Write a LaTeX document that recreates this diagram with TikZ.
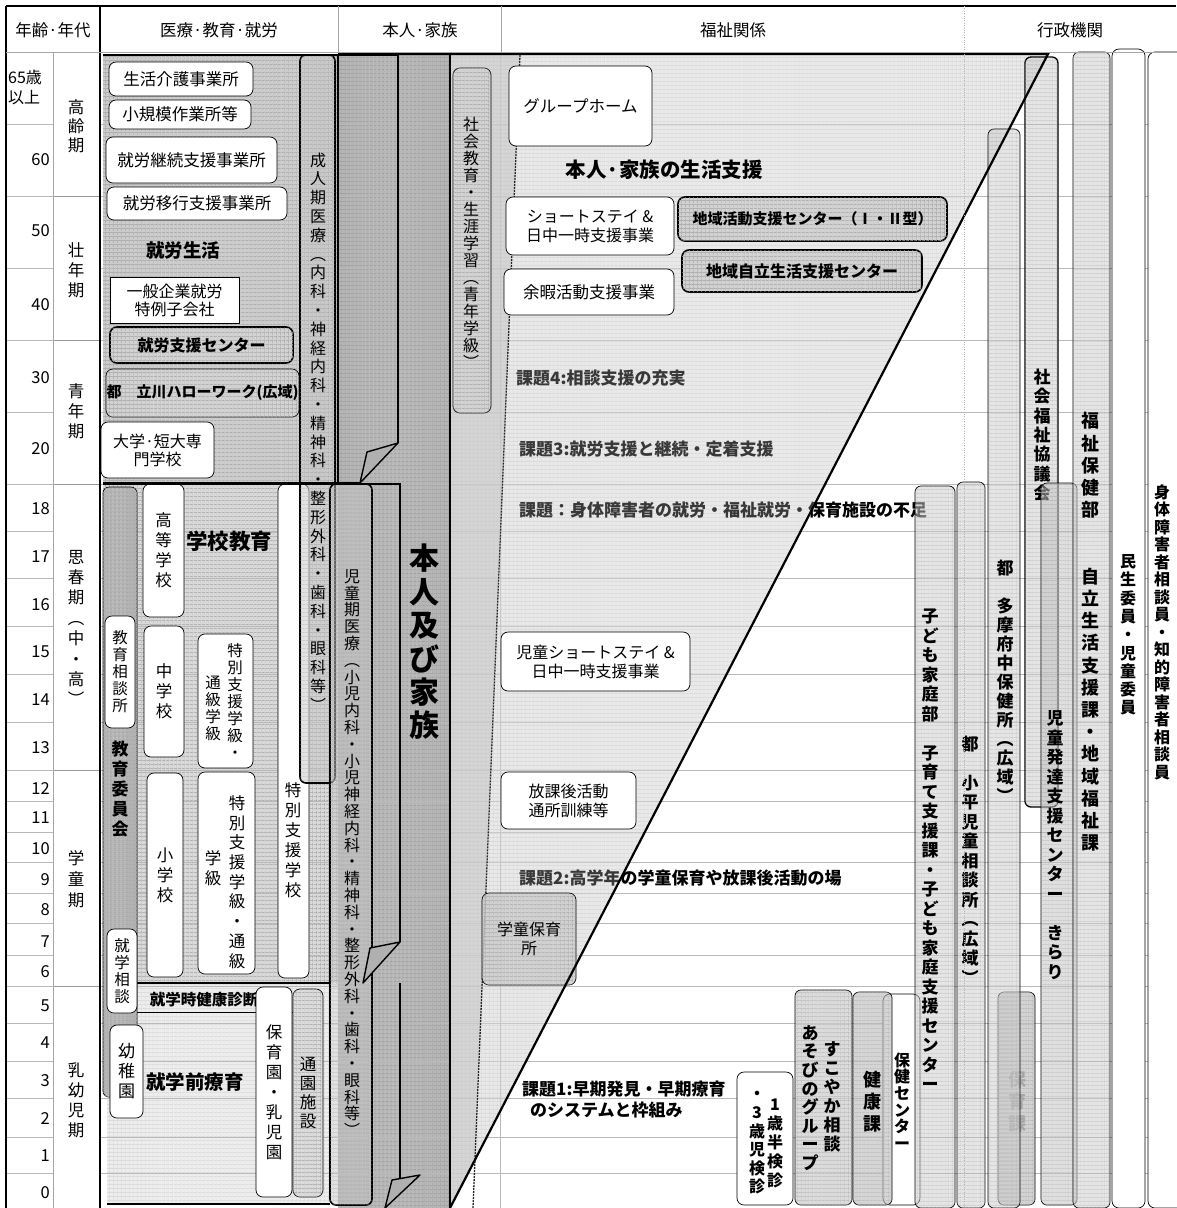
\documentclass[tikz,border=0pt]{standalone}
\usepackage{fontspec}
\setmainfont{Noto Sans CJK JP}
\usetikzlibrary{patterns.meta}

% tategaki: one character per line
\def\tateloop#1{\ifx\relax#1\else\hbox to 1em{\hss#1\hss}\expandafter\tateloop\fi}
\newcommand\tate[2][18pt]{\vbox{\baselineskip=#1\lineskiplimit=-\maxdimen\tateloop#2\relax}}

\tikzset{
  texture/.style={
    postaction={pattern={Lines[angle=0, distance=4pt, line width=0.4pt]}, pattern color=#1},
    postaction={pattern={Lines[angle=90, distance=4pt, line width=0.4pt]}, pattern color=#1}},
  texture/.default=gray!75,
  rowline/.style={gray!55, line width=0.7pt},
  lbl/.style={inner sep=0pt},
  wbox/.style={draw, fill=white, rounded corners=7pt, line width=0.7pt, inner sep=0pt, align=center},
  gbox/.style={draw, fill=gray!35, texture, rounded corners=7pt, line width=0.7pt, inner sep=0pt, align=center},
  bar/.style={draw, fill=gray!40, fill opacity=0.5, text opacity=1, texture=gray!70, rounded corners=6pt, line width=0.7pt, inner sep=0pt},
  bold/.style={lbl, font=\fontsize{16}{18}\selectfont\bfseries},
  kadai/.style={lbl, anchor=west, font=\fontsize{17}{20}\selectfont\bfseries},
  fold/.style={fill=gray!62, draw, line width=1.4pt, line join=round},
}

\begin{document}
\begin{tikzpicture}[x=1pt, y=-1pt, font=\fontsize{16.5}{19}\selectfont]
\useasboundingbox (0,0) rectangle (1176,1208);

% zones
\fill[gray!40, texture] (103,55) rectangle (338,483);
\fill[gray!58, texture=gray!80] (338,55) rectangle (450,1208);
\fill[gray!30, texture] (103,484) rectangle (338,983);
\fill[gray!14, texture=gray!35] (107,983) rectangle (330,1204);

% support triangle (base)
\fill[gray!22, texture=gray!45] (450,55) -- (1048,55) -- (450,1208) -- cycle;
\begin{scope}
  \clip (450,55) -- (1048,55) -- (450,1208) -- cycle;
  \fill[gray!60, fill opacity=0.5] (450,55) -- (520,55) -- (473,1208) -- (450,1208) -- cycle;
\end{scope}

% rows
\foreach \y in {124,196,268,340,412,484,531,578,626,674,722,770,801,832,862,893,923,955,986,1023,1061,1098,1137,1173}
  {\draw[rowline] (100,\y) -- (1176,\y); \draw[rowline] (6,\y) -- (53,\y);}
\foreach \y in {196,340,484,770,986} \draw[gray!80, line width=1pt] (53,\y) -- (100,\y);
\draw[rowline] (500,52) -- (500,1208);

% 医療・教育・就労
\node[wbox, minimum width=144, minimum height=34] (kaigo) at (181,79) {生活介護事業所};
\node[wbox, minimum width=142, minimum height=29] (shokibo) at (180,114.5) {小規模作業所等};
\node[wbox, minimum width=171, minimum height=46] (keizoku) at (191.5,160) {就労継続支援事業所};
\node[wbox, minimum width=180, minimum height=33] (ikou) at (197,203.5) {就労移行支援事業所};
\node[bold, font=\fontsize{18.5}{22}\selectfont\bfseries] (shuro) at (183,250) {就労生活};
\node[wbox, rounded corners=0pt, minimum width=129, minimum height=46, font=\fontsize{16}{18}\selectfont] (ippan) at (174.5,300) {一般企業就労\\特例子会社};
\node[gbox, line width=1.6pt, minimum width=183, minimum height=36, font=\fontsize{16}{18}\selectfont\bfseries] (shienc) at (201.5,345) {就労支援センター};
\node[gbox, minimum width=193, minimum height=48, font=\fontsize{15}{18}\selectfont\bfseries] (hello) at (202.5,393) {都　立川ハローワーク(広域)};
\node[wbox, minimum width=113, minimum height=56, font=\fontsize{16}{18}\selectfont] (daigaku) at (157.5,450) {大学·短大専\\門学校};

\node[wbox, minimum width=31, minimum height=494] (tokushi) at (293.5,731) {};
\node[lbl] (t-tokushi) at (293,840) {\tate[20pt]{特別支援学校}};
\node[bar, fill=gray!45, line width=1.6pt, minimum width=35, minimum height=728] (seijin) at (317.5,419) {};
\node[lbl, font=\fontsize{16}{18}\selectfont] (t-seijin) at (318,432) {\tate[18.8pt]{成人期医療︵内科・神経内科・精神科・整形外科・歯科・眼科等︶}};

\draw[line width=1.6pt] (338,55) -- (338,483);
\draw[line width=1.6pt] (103,55) -- (398,55) -- (398,443);
\draw[line width=1.6pt] (103,483) -- (360,483);
\filldraw[fold] (360,483) -- (367,452) -- (398,443) -- cycle;

\node[bar, fill=gray!60, fill opacity=1, minimum width=34, minimum height=610] (iinkai) at (120,792) {};
\node[lbl, font=\fontsize{17}{19}\selectfont\bfseries] (t-iinkai) at (120,789) {\tate[20pt]{教育委員会}};
\node[wbox, minimum width=30, minimum height=112, font=\fontsize{15.5}{18}\selectfont] (soudan) at (120,672) {\tate[17pt]{教育相談所}};
\node[wbox, minimum width=41, minimum height=133] (koko) at (163.5,550.5) {\tate[20pt]{高等学校}};
\node[lbl, font=\fontsize{21.5}{24}\selectfont\bfseries] (gakko) at (229,541) {学校教育};
\node[wbox, minimum width=40, minimum height=131] (chugaku) at (164,691.5) {\tate[20pt]{中学校}};
\node[wbox, minimum width=55, minimum height=134] (tokukyu1) at (225.5,701) {};
\node[lbl, font=\fontsize{15.5}{18}\selectfont] (t-tokukyu1a) at (235,701) {\tate[17pt]{特別支援学級・}};
\node[lbl, font=\fontsize{15.5}{18}\selectfont] (t-tokukyu1b) at (213,708) {\tate[17pt]{通級学級}};
\node[wbox, minimum width=36, minimum height=204] (shogaku) at (165,875) {\tate[20pt]{小学校}};
\node[wbox, minimum width=57, minimum height=202] (tokukyu2) at (226.5,873) {};
\node[lbl] (t-tokukyu2a) at (237,882) {\tate[19.7pt]{特別支援学級・通級}};
\node[lbl] (t-tokukyu2b) at (213,868) {\tate[20pt]{学級}};

\node[bar, fill=gray!45, line width=1.6pt, minimum width=42, minimum height=721] (jidoki) at (351,844.5) {};
\node[lbl, font=\fontsize{16}{18}\selectfont] (t-jidoki) at (352,853) {\tate[16.8pt]{児童期医療︵小児内科・小児神経内科・精神科・整形外科・歯科・眼科等︶}};

\draw[line width=1.6pt] (103,484) -- (400,484) -- (400,942);
\filldraw[fold] (363,983) -- (370,948) -- (400,942) -- cycle;
\draw[line width=1.6pt] (137,983) -- (330,983);
\draw[line width=1.6pt] (107,1204) -- (330,1204);
\draw[line width=0.8pt] (137,1012) -- (293,1012);
\node[bold, font=\fontsize{15.5}{18}\selectfont\bfseries] (kenshin0) at (204,1000) {就学時健康診断};
\node[wbox, minimum width=30, minimum height=84, font=\fontsize{15.5}{18}\selectfont] (shugaku) at (122,971) {\tate[17pt]{就学相談}};
\node[wbox, minimum width=33, minimum height=93, font=\fontsize{17}{19}\selectfont] (yochien) at (126.5,1071.5) {\tate[20pt]{幼稚園}};
\node[lbl, font=\fontsize{19.5}{22}\selectfont\bfseries] (zengaku) at (195,1082) {就学前療育};
\node[wbox, minimum width=36, minimum height=210] (hoikuen) at (274,1092) {\tate[20pt]{保育園・乳児園}};
\node[gbox, fill=gray!28, minimum width=30, minimum height=208] (tsuen) at (308,1093) {\tate[19pt]{通園施設}};
\draw[line width=1.6pt] (400,983) -- (400,1180);
\filldraw[fold] (385,1208) -- (392,1180) -- (420,1175) -- cycle;

% 本人・家族
\node[lbl, font=\fontsize{30}{34}\selectfont\bfseries] (honnin) at (424,642) {\tate[33.4pt]{本人及び家族}};

% 福祉関係: issues
\node[kadai] (kadai4) at (516,378) {課題4:相談支援の充実};
\node[kadai] (kadai3) at (519,449) {課題3:就労支援と継続・定着支援};
\node[kadai] (kadai0) at (519,510) {課題：身体障害者の就労・福祉就労・保育施設の不足};
\node[kadai] (kadai2) at (519,878) {課題2:高学年の学童保育や放課後活動の場};
\node[kadai, align=left, font=\fontsize{17}{21}\selectfont\bfseries] (kadai1) at (522,1100) {課題1:早期発見・早期療育\\\hspace{8pt}のシステムと枠組み};

% support triangle (veil over the issues)
\fill[white, fill opacity=0.22] (450,55) -- (1048,55) -- (450,1208) -- cycle;
\draw[gray!30!black, line width=1.3pt, dash pattern=on 2pt off 1pt] (520,55) -- (473,1208);

\node[gbox, minimum width=38, minimum height=345] (shakyoiku) at (472,240.5) {};
\node[lbl, font=\fontsize{16}{18}\selectfont] (t-shakyoiku) at (471,243) {\tate[17pt]{社会教育・生涯学習︵青年学級︶}};
\node[wbox, minimum width=143, minimum height=80] (gh) at (580.5,106) {グループホーム};
\node[lbl, font=\fontsize{20.5}{24}\selectfont\bfseries] (seikatsu) at (664,170) {本人·家族の生活支援};
\node[wbox, minimum width=168, minimum height=58, font=\fontsize{16}{19}\selectfont] (short) at (590,226) {ショートステイ \&\\日中一時支援事業};
\node[gbox, line width=1.6pt, minimum width=269, minimum height=44, font=\fontsize{15}{18}\selectfont\bfseries] (katsudo) at (812.5,219) {地域活動支援センター（Ⅰ・Ⅱ型）};
\node[gbox, line width=1.6pt, minimum width=240, minimum height=42, font=\fontsize{16}{18}\selectfont\bfseries] (jiritsu) at (802,271) {地域自立生活支援センター};
\node[wbox, minimum width=170, minimum height=46] (yoka) at (589,292) {余暇活動支援事業};
\node[wbox, minimum width=189, minimum height=59, font=\fontsize{16}{19}\selectfont] (jshort) at (595.5,661.5) {児童ショートステイ \&\\日中一時支援事業};
\node[wbox, minimum width=135, minimum height=57, font=\fontsize{16}{19}\selectfont] (houkago) at (568.5,800.5) {放課後活動\\通所訓練等};
\node[gbox, fill=gray!40, fill opacity=0.8, text opacity=1, minimum width=94, minimum height=92, font=\fontsize{16}{19}\selectfont] (gakudo) at (529,939) {学童保育\\所};

\node[wbox, minimum width=56, minimum height=133] (kenshin) at (765,1138.5) {};
\node[bold] (t-kenshin-a) at (775,1143) {\tate[19pt]{1歳半検診}};
\node[bold] (t-kenshin-b) at (757,1143) {\tate[18.6pt]{・3歳児検診}};
\node[bar, fill=gray!40, fill opacity=0.7, minimum width=57, minimum height=215] (sukoyaka) at (823.5,1097.5) {};
\node[bold, font=\fontsize{17}{19}\selectfont\bfseries] (t-sukoyaka-a) at (832,1097) {\tate[19pt]{すこやか相談}};
\node[bold, font=\fontsize{17}{19}\selectfont\bfseries] (t-sukoyaka-b) at (810,1098) {\tate[18.6pt]{あそびのグループ}};
\node[wbox, minimum width=37, minimum height=211] (hoken) at (901.5,1099.5) {};
\node[bold] (t-hoken) at (902,1101) {\tate[16.6pt]{保健センター}};
\node[bar, fill=gray!55, fill opacity=0.6, minimum width=39, minimum height=213] (kenko) at (872.5,1098.5) {};
\node[bold, font=\fontsize{18}{20}\selectfont\bfseries] (t-kenko) at (872,1102) {\tate[22pt]{健康課}};

% 行政機関
\node[bar, minimum width=40, minimum height=722] (kodomo) at (935,847) {};
\node[bold, font=\fontsize{17}{19}\selectfont\bfseries] (t-kodomo) at (930,850) {\tate[19.5pt]{子ども家庭部　子育て支援課・子ども家庭支援センター}};
\node[bar, minimum width=28, minimum height=726] (kodaira) at (971,845) {};
\node[bold, font=\fontsize{17}{19}\selectfont\bfseries] (t-kodaira) at (970,860) {\tate[19.5pt]{都　小平児童相談所︵広域︶}};
\node[bar, fill=gray!50, fill opacity=0.7, minimum width=37, minimum height=213] (hoikuka) at (1016.5,1098.5) {};
\node[bold, text=gray!70, font=\fontsize{18}{20}\selectfont\bfseries] (t-hoikuka) at (1017,1102) {\tate[22pt]{保育課}};
\node[bar, minimum width=32, minimum height=1079] (tama) at (1004,668.5) {};
\node[bold, font=\fontsize{17}{19}\selectfont\bfseries] (t-tama) at (1005,681) {\tate[19pt]{都　多摩府中保健所︵広域︶}};
\node[bar, line width=1.3pt, minimum width=33, minimum height=750] (shakyo) at (1041.5,432) {};
\node[bold, font=\fontsize{17}{19}\selectfont\bfseries] (t-shakyo) at (1042,435) {\tate[19.3pt]{社会福祉協議会}};
\node[bar, fill=gray!50, minimum width=36, minimum height=722] (hattatsu) at (1059,844) {};
\node[bold, font=\fontsize{17}{19}\selectfont\bfseries] (t-hattatsu) at (1055,845) {\tate[19.5pt]{児童発達支援センター　きらり}};
\node[bar, minimum width=37, minimum height=1156] (fukushi) at (1091.5,630) {};
\node[bold, font=\fontsize{18}{20}\selectfont\bfseries] (t-fukushi) at (1090,632) {\tate[22.2pt]{福祉保健部　　自立生活支援課・地域福祉課}};
\node[wbox, minimum width=33, minimum height=1159] (minsei) at (1128.5,628.5) {};
\node[bold] (t-minsei) at (1128,635) {\tate[18.3pt]{民生委員・児童委員}};
\node[wbox, minimum width=42, minimum height=1156] (shintai) at (1169,630) {};
\node[bold] (t-shintai) at (1162,632) {\tate[17.5pt]{身体障害者相談員・知的障害者相談員}};

% triangle outline
\draw[line width=2.2pt] (338,54) -- (1048,54) -- (450,1208);
\draw[line width=2pt] (450,54) -- (450,1208);

% age column and header
\draw[line width=2pt] (6,6) -- (1176,6);
\draw[line width=2pt] (6,6) -- (6,1208);
\draw[line width=1.6pt] (100,6) -- (100,1208);
\draw[gray!70, line width=1pt] (6,52) -- (1176,52);
\draw[gray!70, line width=1pt] (53,52) -- (53,1208);
\draw[gray!70, line width=1pt] (338,6) -- (338,52);
\draw[gray!70, line width=1pt] (501,6) -- (501,52);
\draw[gray!60, dotted] (964,6) -- (964,1208);
\node[lbl] (h-age) at (53,30) {年齢·年代};
\node[lbl] (h-iryo) at (219,30) {医療·教育·就労};
\node[lbl] (h-honnin) at (420,30) {本人·家族};
\node[lbl] (h-fukushi) at (733,30) {福祉関係};
\node[lbl] (h-gyosei) at (1070,30) {行政機関};

\node[lbl, anchor=north west, align=left, font=\fontsize{16}{20}\selectfont] (age65) at (8,70) {65歳\\以上};
\foreach \y/\a in {160/60, 231/50, 305/40, 378/30, 449/20, 509/18, 557/17, 605/16, 652/15, 700/14, 748/13, 788/12, 818/11, 849/10, 880/9, 910/8, 942/7, 972/6, 1006/5, 1043/4, 1081/3, 1118/2, 1156/1, 1193/0}
  \node[lbl, anchor=east] (age\a) at (50,\y) {\a};
\node[lbl] (p-korei) at (76,126) {\tate[19pt]{高齢期}};
\node[lbl] (p-sonen) at (76,270) {\tate[20pt]{壮年期}};
\node[lbl] (p-seinen) at (76,411) {\tate[20pt]{青年期}};
\node[lbl] (p-shishun) at (76,628) {\tate[20.4pt]{思春期︵中・高︶}};
\node[lbl] (p-gakudo) at (76,879) {\tate[21pt]{学童期}};
\node[lbl] (p-nyuyoji) at (76,1100) {\tate[20pt]{乳幼児期}};
\end{tikzpicture}
\end{document}
